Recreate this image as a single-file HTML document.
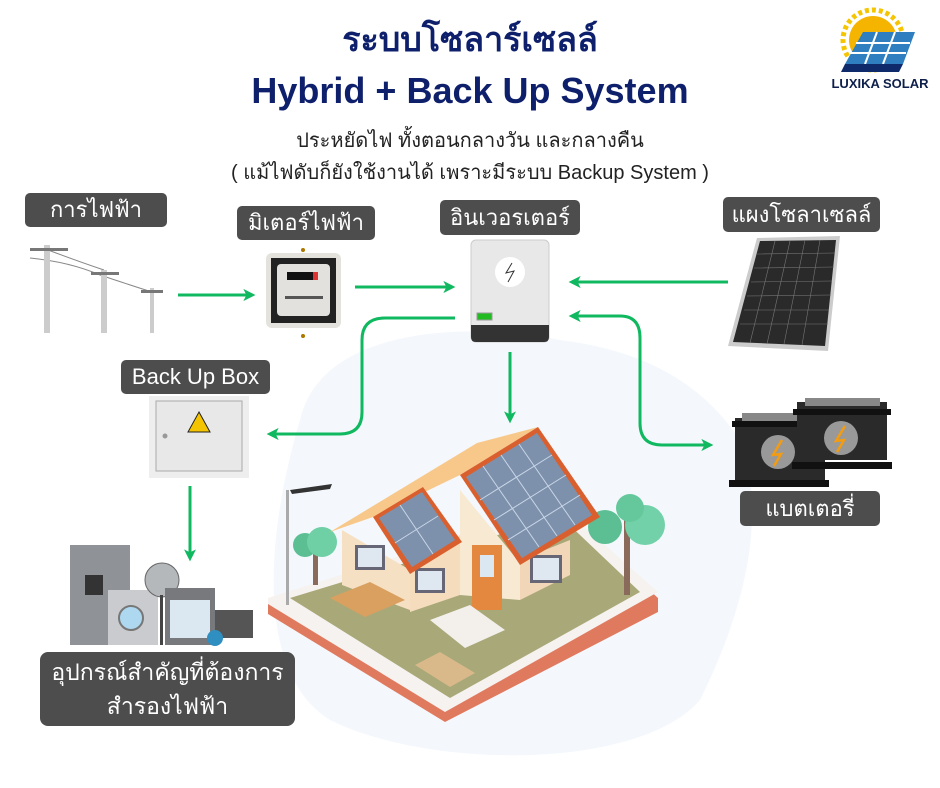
<!DOCTYPE html>
<html><head><meta charset="utf-8"><style>
html,body{margin:0;padding:0;background:#fff;}
body{width:940px;height:788px;position:relative;overflow:hidden;font-family:"Liberation Sans","DejaVu Sans",sans-serif;}
.t{position:absolute;left:0;width:940px;text-align:center;color:#0e1f6b;font-weight:bold;}
.lab{position:absolute;background:#4d4d4d;color:#fff;border-radius:5px;text-align:center;font-size:22px;box-sizing:border-box;}
</style></head><body>
<svg width="940" height="788" style="position:absolute;left:0;top:0">
<defs>
<marker id="ar" markerWidth="4" markerHeight="4" refX="2.2" refY="2" orient="auto" markerUnits="strokeWidth"><path d="M0,0 L4,2 L0,4 L1,2z" fill="#10b860"/></marker>
</defs>
<path d="M300,420 C320,330 460,320 560,340 C640,350 700,380 740,440 C770,520 740,620 700,700 C640,770 430,770 330,720 C250,670 270,520 300,420z" fill="#f4f8fc"/>
<g stroke="#bbb" fill="none">
<path d="M30,258 Q70,262 100,275 M100,275 Q130,285 152,292 M48,250 Q80,262 104,270" stroke="#888" stroke-width="1"/>
<rect x="44" y="245" width="6" height="88" fill="#ccc" stroke="none"/>
<rect x="30" y="248" width="38" height="3" fill="#777" stroke="none"/>
<rect x="101" y="270" width="6" height="63" fill="#ccc" stroke="none"/>
<rect x="91" y="272" width="28" height="3" fill="#777" stroke="none"/>
<rect x="150" y="288" width="4" height="45" fill="#ccc" stroke="none"/>
<rect x="141" y="290" width="22" height="3" fill="#777" stroke="none"/>
</g>
<rect x="266" y="253" width="75" height="75" rx="6" fill="#e4e2dc"/>
<rect x="271" y="258" width="65" height="65" fill="#222"/>
<rect x="277" y="264" width="53" height="52" rx="4" fill="#e2e1dd"/>
<rect x="287" y="272" width="30" height="8" fill="#111"/>
<rect x="313" y="272" width="5" height="8" fill="#d33"/>
<rect x="285" y="296" width="38" height="3" fill="#555"/>
<circle cx="303" cy="250" r="2" fill="#a70"/><circle cx="303" cy="336" r="2" fill="#a70"/>
<rect x="471" y="240" width="78" height="102" rx="5" fill="#e8e8e8" stroke="#ccc"/>
<path d="M471,325 H549 V337 Q549,342 544,342 H476 Q471,342 471,337z" fill="#333"/>
<circle cx="510" cy="272" r="15" fill="#fff"/>
<path d="M512,263 L506,273 L514,271 L508,282" stroke="#333" fill="none" stroke-width="1"/>
<rect x="477" y="313" width="15" height="7" fill="#2b2" stroke="#999"/>
<rect x="149" y="396" width="100" height="82" fill="#eee"/>
<rect x="156" y="401" width="86" height="70" fill="#e8e8e8" stroke="#aaa"/>
<path d="M199,412 L210,432 L188,432z" fill="#f5c400" stroke="#222" stroke-width="1"/>
<circle cx="165" cy="436" r="2.5" fill="#999"/>
<path d="M757,238 L840,236 L828,351 L728,346z" fill="#ccc"/>
<path d="M760,241 L836,240 L825,346 L733,342z" fill="#2a2a2a"/>
<g stroke="#777" stroke-width="0.6">
<path d="M775,241 L750,343 M790,241 L767,344 M805,240 L784,344 M820,240 L802,345"/>
<path d="M757,254 L835,253 M754,268 L834,267 M751,282 L832,281 M747,296 L831,295 M744,310 L829,310 M740,324 L828,324"/>
</g>
<!-- batteries: left first, right on top -->
<rect x="735" y="418" width="90" height="62" fill="#2a2a2a"/>
<rect x="732" y="421" width="96" height="6" fill="#111"/>
<rect x="729" y="480" width="100" height="7" fill="#111"/>
<rect x="742" y="413" width="60" height="8" fill="#888"/>
<circle cx="778" cy="452" r="17" fill="#999"/>
<path d="M782,440 L773,455 L781,454 L774,466" stroke="#f39c12" stroke-width="2.5" fill="none"/>
<rect x="797" y="402" width="90" height="58" fill="#2a2a2a"/>
<rect x="793" y="409" width="98" height="6" fill="#111"/>
<rect x="792" y="462" width="100" height="7" fill="#111"/>
<rect x="805" y="398" width="75" height="8" fill="#888"/>
<circle cx="841" cy="438" r="17" fill="#999"/>
<path d="M845,426 L836,441 L844,440 L837,452" stroke="#f39c12" stroke-width="2.5" fill="none"/>
<g stroke="#10b860" stroke-width="3" fill="none" marker-end="url(#ar)">
<path d="M178,295 H250"/>
<path d="M355,287 H450"/>
<path d="M728,282 H574"/>
<path d="M510,352 V418"/>
<path d="M455,318 H385 Q362,318 362,340 V412 Q362,434 340,434 H272"/>
<path d="M640,380 V338 Q640,316 620,316 H574"/>
<path d="M640,380 V423 Q640,445 662,445 H708"/>
<path d="M190,486 V556"/>
</g>
<path d="M268,600 L560,510 L658,598 L658,612 L445,722 L268,614z" fill="#e07a5f"/>
<path d="M268,598 L560,505 L658,592 L445,712 L268,604z" fill="#f6f2ef"/>
<path d="M290,598 L560,516 L640,592 L450,698 z" fill="#a9a878"/>
<rect x="286" y="490" width="3" height="115" fill="#aaa"/>
<path d="M290,490 L332,484 L330,489 L292,494z" fill="#333"/>
<rect x="313" y="545" width="5" height="40" fill="#8a6a5a"/>
<circle cx="305" cy="545" r="12" fill="#5bbf93"/><circle cx="322" cy="542" r="15" fill="#6fcfa5"/>
<rect x="624" y="520" width="6" height="75" fill="#8a6a5a"/>
<circle cx="605" cy="527" r="17" fill="#5bbf93"/><circle cx="645" cy="525" r="20" fill="#72d1a8"/><circle cx="630" cy="508" r="14" fill="#65c89c"/>
<path d="M342,530 L410,570 L410,610 L342,585z" fill="#f6e0c4"/>
<path d="M410,565 L460,535 L460,595 L410,612z" fill="#f4dcbc"/>
<path d="M460,490 L520,563 L520,600 L460,595z" fill="#f8ead2"/>
<path d="M520,560 L570,540 L570,575 L520,600z" fill="#f1d7b8"/>
<rect x="472" y="545" width="30" height="65" fill="#e5883f"/>
<rect x="480" y="555" width="14" height="22" fill="#dbe8f1"/>
<rect x="355" y="545" width="30" height="25" fill="#667" /><rect x="358" y="548" width="24" height="19" fill="#dfe8f0"/>
<rect x="415" y="568" width="30" height="25" fill="#667"/><rect x="418" y="571" width="24" height="19" fill="#dfe8f0"/>
<rect x="530" y="555" width="32" height="28" fill="#667"/><rect x="533" y="558" width="26" height="22" fill="#dfe8f0"/>
<path d="M330,532 L477,443 L538,427 L460,475 L373,517z" fill="#f8c88a"/>
<path d="M460,475 L538,427 L600,517 L520,565z" fill="#d9602e"/>
<path d="M466,477 L537,433 L592,515 L522,558z" fill="#7d91ad"/>
<g stroke="#c8d6e6" stroke-width="1"><path d="M501,455 L557,536 M483,466 L539,547 M519,444 L575,525 M480,500 L552,455 M494,520 L566,475 M508,540 L580,495"/></g>
<path d="M373,517 L423,487 L462,542 L410,574z" fill="#d9602e"/>
<path d="M379,518 L422,492 L455,540 L412,567z" fill="#7d91ad"/>
<g stroke="#c8d6e6" stroke-width="1"><path d="M400,505 L433,554 M395,543 L438,516"/></g>
<path d="M430,620 L470,605 L505,630 L465,648z" fill="#f3f0ec"/>
<path d="M415,665 L440,652 L475,673 L450,687z" fill="#d9b98a"/>
<path d="M330,598 L370,582 L405,600 L365,617z" fill="#d9a060"/>
<rect x="70" y="545" width="60" height="100" fill="#8f9296"/>
<rect x="85" y="575" width="18" height="20" fill="#333"/>
<rect x="108" y="590" width="50" height="55" fill="#c9cbce"/>
<circle cx="131" cy="618" r="12" fill="#aed8f0" stroke="#777" stroke-width="2"/>
<circle cx="162" cy="580" r="17" fill="#b5b8bb" stroke="#666"/>
<rect x="160" y="595" width="3" height="50" fill="#444"/>
<rect x="165" y="588" width="50" height="57" fill="#77797d"/>
<rect x="170" y="600" width="40" height="38" fill="#dbe7f1"/>
<rect x="215" y="610" width="38" height="28" fill="#555"/>
<circle cx="215" cy="638" r="8" fill="#2f8fc0"/>
</svg>
<div class="t" style="top:12px;font-size:34px;">ระบบโซลาร์เซลล์</div>
<div class="t" style="top:70px;font-size:36px;">Hybrid + Back Up System</div>
<div class="t" style="top:124px;font-size:20px;font-weight:normal;color:#222;">ประหยัดไฟ ทั้งตอนกลางวัน และกลางคืน</div>
<div class="t" style="top:156px;font-size:20px;font-weight:normal;color:#222;">( แม้ไฟดับก็ยังใช้งานได้ เพราะมีระบบ Backup System )</div>
<svg width="110" height="95" style="position:absolute;left:825px;top:2px">
<circle cx="48" cy="38" r="30" fill="none" stroke="#f4c500" stroke-width="5" stroke-dasharray="4 3"/>
<circle cx="48" cy="38" r="24" fill="#f4b400"/>
<path d="M38,30 L90,30 L78,62 L20,62z" fill="#2f7fc0"/>
<g stroke="#fff" stroke-width="2"><path d="M31,41 L85,41 M25,51 L81,51 M52,30 L40,62 M70,30 L58,62"/></g>
<path d="M20,62 L78,62 L74,70 L16,70z" fill="#0e2a6b"/>
<text x="55" y="86" text-anchor="middle" font-size="13" font-weight="bold" fill="#0e1f4b" font-family="Liberation Sans">LUXIKA SOLAR</text>
</svg>
<div class="lab" style="left:25px;top:193px;width:142px;height:34px;line-height:34px;">การไฟฟ้า</div>
<div class="lab" style="left:237px;top:206px;width:138px;height:34px;line-height:34px;">มิเตอร์ไฟฟ้า</div>
<div class="lab" style="left:440px;top:200px;width:140px;height:35px;line-height:35px;">อินเวอรเตอร์</div>
<div class="lab" style="left:723px;top:197px;width:157px;height:35px;line-height:35px;">แผงโซลาเซลล์</div>
<div class="lab" style="left:121px;top:360px;width:149px;height:34px;line-height:34px;">Back Up Box</div>
<div class="lab" style="left:740px;top:491px;width:140px;height:35px;line-height:35px;">แบตเตอรี่</div>
<div class="lab" style="left:40px;top:652px;width:255px;height:74px;line-height:34px;padding-top:3px;font-size:23px;border-radius:8px;">อุปกรณ์สำคัญที่ต้องการ<br>สำรองไฟฟ้า</div>
</body></html>
